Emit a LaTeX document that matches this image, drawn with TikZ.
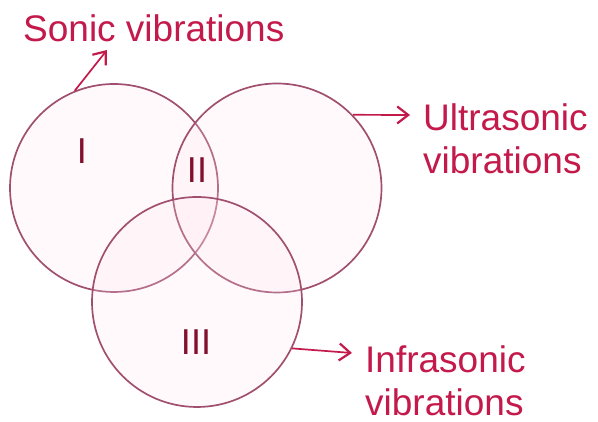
\documentclass[tikz,border=0pt]{standalone}
\usepackage{fontspec}
\setmainfont{Liberation Sans}
\usetikzlibrary{arrows.meta}
\definecolor{ringline}{RGB}{160,80,110}
\definecolor{ringfill}{RGB}{255,228,238}
\definecolor{tagred}{RGB}{195,25,75}
\definecolor{numred}{RGB}{130,15,45}

\begin{document}
\begin{tikzpicture}[x=1pt, y=1pt,
  ring/.style={circle, draw=ringline, line width=1.7pt, fill=ringfill,
               fill opacity=0.22, minimum size=#1, inner sep=0pt},
  tag/.style={text=tagred, inner sep=0pt, align=left,
              font=\fontsize{37}{43}\selectfont},
  numeral/.style={text=numred, inner sep=0pt, font=\fontsize{36}{40}\selectfont},
  arrow/.style={-{Straight Barb[length=11pt, width=17pt, line width=2.2pt]},
                draw=tagred, line width=1.7pt}
]
\useasboundingbox (0,0) rectangle (598,422);

% the three sets
\node[ring=208pt] (sonic) at (114,234) {};
\node[ring=209pt] (ultra) at (277,234) {};
\node[ring=210pt] (infra) at (197,120) {};

% region numbers
\node[numeral] (one)   at (82,271)  {I};
\node[numeral] (two)   at (197,252) {II};
\node[numeral] (three) at (196,80)  {III};

% names
\node[tag, anchor=base west] (sonictext) at (23,380) {Sonic vibrations};
\node[tag, anchor=north west] (ultratext) at (423,319) {Ultrasonic\\vibrations};
\node[tag, anchor=north west] (infratext) at (365,77) {Infrasonic\\vibrations};

\coordinate (sonictip) at (107,372);
\coordinate (ultratip) at (410,307);
\coordinate (infratip) at (352,69);

\draw[arrow] (sonic.112) -- (sonictip);
\draw[arrow] (ultra.44) -- (ultratip);
\draw[arrow] (infra.-26) -- (infratip);

\end{tikzpicture}
\end{document}
